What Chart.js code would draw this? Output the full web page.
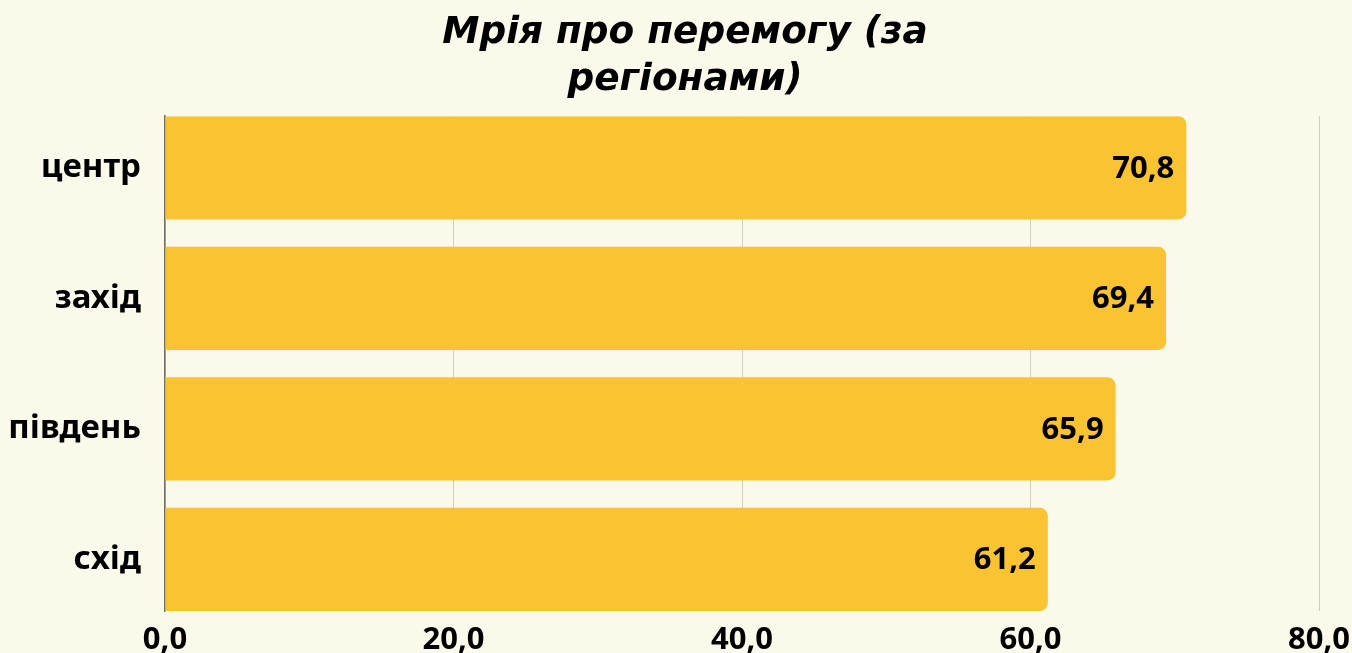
<!DOCTYPE html>
<html>
<head>
<meta charset="utf-8">
<script src="https://cdn.jsdelivr.net/npm/chart.js@4"></script>
<style>
  html, body { margin: 0; padding: 0; background: #faf9ea; }
  #wrap { width: 1352px; height: 653px; position: relative; }
</style>
</head>
<body>
<div id="wrap"><canvas id="grafico"></canvas></div>
<script>
const categorias = ['центр', 'захід', 'південь', 'схід'];
const valores = [70.8, 69.4, 65.9, 61.2];
const ticksX = [0, 20, 40, 60, 80];
const titulo = ['Мрія про перемогу (за', 'регіонами)'];

const fmt = v => v.toFixed(1).replace('.', ',');

// etiquetas dentro de la barra, al final
const etiquetas = {
  id: 'etiquetas',
  afterDatasetsDraw(chart) {
    const ctx = chart.ctx;
    const meta = chart.getDatasetMeta(0);
    ctx.save();
    ctx.font = 'bold 31px "Noto Sans"';
    ctx.fillStyle = '#000';
    ctx.textAlign = 'right';
    ctx.textBaseline = 'middle';
    meta.data.forEach((bar, i) => {
      ctx.fillText(fmt(valores[i]), bar.x - 12, bar.y + 1);
    });
    ctx.restore();
  }
};

new Chart(document.getElementById('grafico'), {
  type: 'bar',
  data: {
    datasets: [{
      data: valores.map((v, i) => ({ x: v, y: i })),
      backgroundColor: '#f9c332',
      borderRadius: 8,
      borderSkipped: 'start',
      categoryPercentage: 1,
      barPercentage: 0.79
    }]
  },
  options: {
    indexAxis: 'y',
    responsive: true,
    maintainAspectRatio: false,
    animation: false,
    layout: { padding: { left: 10, right: -8, top: 10, bottom: 0 } },
    plugins: {
      legend: { display: false },
      tooltip: { enabled: false },
      title: {
        display: true,
        text: titulo,
        color: '#000',
        font: { family: '"DejaVu Sans"', size: 37.4, weight: 'bold', style: 'italic', lineHeight: 1.26 },
        padding: { top: 0, bottom: 12 }
      }
    },
    scales: {
      x: {
        type: 'linear',
        min: 0,
        max: 80,
        afterBuildTicks: s => { s.ticks = ticksX.map(v => ({ value: v })); },
        afterFit: s => { s.paddingRight = 33; s.height = 42; },
        grid: { color: '#cfcdc0', lineWidth: 1, drawTicks: false },
        border: { display: false },
        ticks: {
          color: '#000',
          padding: 11,
          font: { family: '"Noto Sans"', size: 31, weight: 'bold' },
          callback: v => fmt(v)
        }
      },
      y: {
        type: 'linear',
        reverse: true,
        offset: false,
        bounds: 'data',
        min: -0.395,
        max: 3.395,
        afterBuildTicks: s => { s.ticks = categorias.map((c, i) => ({ value: i })); },
        afterFit: s => { s.width = 155; },
        grid: { display: false, offset: false },
        border: { display: true, color: '#6e6e6a', width: 1.5 },
        ticks: {
          color: '#000',
          padding: 16,
          font: { family: '"Noto Sans"', size: 33, weight: 'bold' },
          callback: v => categorias[v]
        }
      }
    }
  },
  plugins: [etiquetas]
});
</script>
</body>
</html>
